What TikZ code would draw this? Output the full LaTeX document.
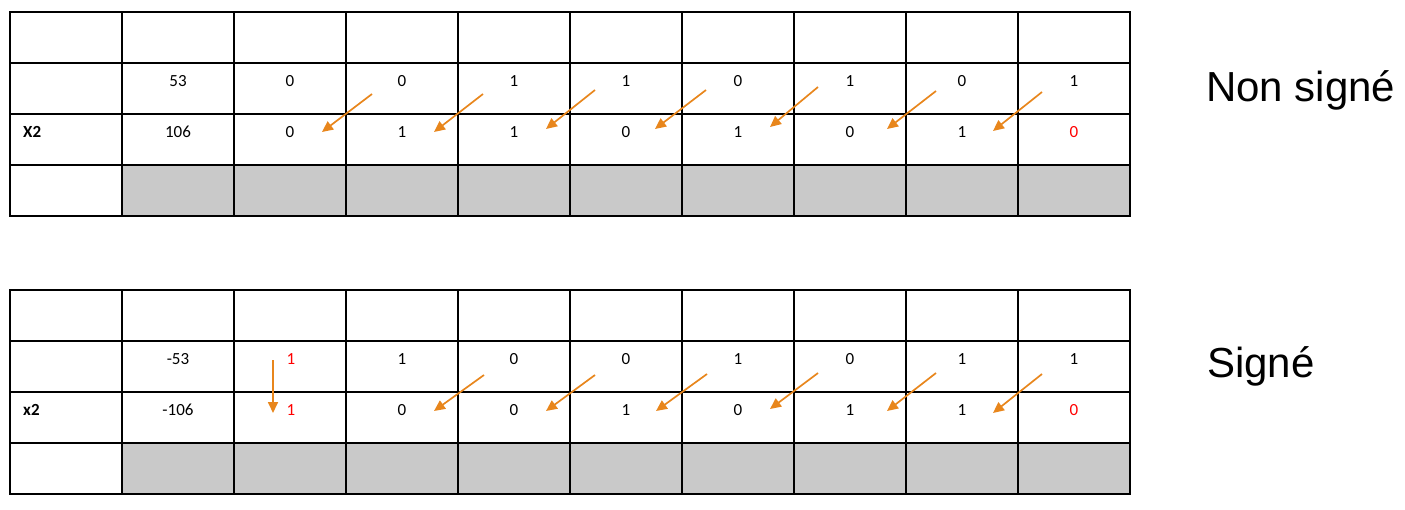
\documentclass[tikz,border=0pt]{standalone}
\usepackage{fontspec}
\setmainfont{Carlito}
\newfontfamily\arialfont{Liberation Sans}
\usetikzlibrary{arrows.meta}
\definecolor{arroworange}{HTML}{E8861C}
\definecolor{cellgray}{HTML}{C9C9C9}
\definecolor{bitred}{HTML}{FF0000}
\begin{document}
\begin{tikzpicture}[x=1pt,y=-1pt,
  gridline/.style={line width=1.7pt, draw=black, line cap=rect},
  val/.style={font=\fontsize{17}{19}\selectfont, inner sep=0pt, anchor=center},
  redval/.style={val, text=bitred},
  rowlabel/.style={font=\bfseries\fontsize{17}{19}\selectfont, inner sep=0pt, anchor=west},
  shiftarrow/.style={draw=arroworange, line width=1.7pt, -{Triangle[length=11pt,width=10pt]}},
  titlelabel/.style={font=\arialfont\fontsize{42}{48}\selectfont, inner sep=0pt, anchor=base west}]
\useasboundingbox (0,0) rectangle (1405,509);
% ---------- grids ----------
\foreach \yo in {12,290}{
  \fill[cellgray] (122,\yo+153) rectangle (1130,\yo+204);
  \foreach \r in {0,51,102,153,204}
    \draw[gridline] (10,\yo+\r) -- (1130,\yo+\r);
  \foreach \c in {10,122,234,346,458,570,682,794,906,1018,1130}
    \draw[gridline] (\c,\yo) -- (\c,\yo+204);
}
% ---------- table 1 (non signe) ----------
\node[rowlabel] (lbla) at (23,132) {X2};
\node[val] (a2) at (178,81) {53};
\node[val] (b2) at (178,132) {106};
\node[val] (a3) at (290,81) {0};
\node[val] (a4) at (402,81) {0};
\node[val] (a5) at (514,81) {1};
\node[val] (a6) at (626,81) {1};
\node[val] (a7) at (738,81) {0};
\node[val] (a8) at (850,81) {1};
\node[val] (a9) at (962,81) {0};
\node[val] (a10) at (1074,81) {1};
\node[val] (b3) at (290,132) {0};
\node[val] (b4) at (402,132) {1};
\node[val] (b5) at (514,132) {1};
\node[val] (b6) at (626,132) {0};
\node[val] (b7) at (738,132) {1};
\node[val] (b8) at (850,132) {0};
\node[val] (b9) at (962,132) {1};
\node[redval] (b10) at (1074,132) {0};
\node[titlelabel] (titlea) at (1206,101) {Non signé};
% arrows table 1
\coordinate (sa1) at (372,94);  \coordinate (ea1) at (322,132);
\coordinate (sa2) at (483,94);  \coordinate (ea2) at (434,132);
\coordinate (sa3) at (595,90);  \coordinate (ea3) at (546,129);
\coordinate (sa4) at (706,90);  \coordinate (ea4) at (655,129);
\coordinate (sa5) at (818,87);  \coordinate (ea5) at (770,127);
\coordinate (sa6) at (936,91);  \coordinate (ea6) at (887,129);
\coordinate (sa7) at (1042,92); \coordinate (ea7) at (993,131);
\foreach \n in {1,...,7} \draw[shiftarrow] (sa\n) -- (ea\n);
% ---------- table 2 (signe) ----------
\node[rowlabel] (lblb) at (23,410) {x2};
\node[val] (c2) at (178,359) {-53};
\node[val] (d2) at (178,410) {-106};
\node[redval] (c3) at (291,359) {1};
\node[val] (c4) at (402,359) {1};
\node[val] (c5) at (514,359) {0};
\node[val] (c6) at (626,359) {0};
\node[val] (c7) at (738,359) {1};
\node[val] (c8) at (850,359) {0};
\node[val] (c9) at (962,359) {1};
\node[val] (c10) at (1074,359) {1};
\node[redval] (d3) at (291,410) {1};
\node[val] (d4) at (402,410) {0};
\node[val] (d5) at (514,410) {0};
\node[val] (d6) at (626,410) {1};
\node[val] (d7) at (738,410) {0};
\node[val] (d8) at (850,410) {1};
\node[val] (d9) at (962,410) {1};
\node[redval] (d10) at (1074,410) {0};
\node[titlelabel] (titleb) at (1207,377) {Signé};
% arrows table 2
\coordinate (sv) at (273,360); \coordinate (ev) at (273,413);
\draw[shiftarrow] (sv) -- (ev);
\coordinate (sb1) at (484,375);  \coordinate (eb1) at (434,411);
\coordinate (sb2) at (595,375);  \coordinate (eb2) at (546,411);
\coordinate (sb3) at (707,374);  \coordinate (eb3) at (656,411);
\coordinate (sb4) at (818,373);  \coordinate (eb4) at (770,409);
\coordinate (sb5) at (936,373);  \coordinate (eb5) at (887,411);
\coordinate (sb6) at (1042,374); \coordinate (eb6) at (993,413);
\foreach \n in {1,...,6} \draw[shiftarrow] (sb\n) -- (eb\n);
\end{tikzpicture}
\end{document}
